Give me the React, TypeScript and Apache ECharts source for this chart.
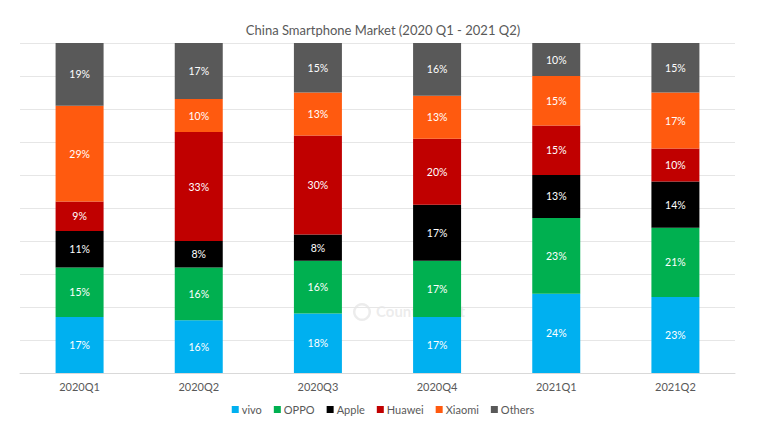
import React, { useEffect, useRef } from "react";
import * as echarts from "echarts";

const categories = ["2020Q1", "2020Q2", "2020Q3", "2020Q4", "2021Q1", "2021Q2"];
const vivo = [17, 16, 18, 17, 24, 23];
const oppo = [15, 16, 16, 17, 23, 21];
const apple = [11, 8, 8, 17, 13, 14];
const huawei = [9, 33, 30, 20, 15, 10];
const xiaomi = [29, 10, 13, 13, 15, 17];
const others = [19, 17, 15, 16, 10, 15];

const seriesDefs = [
  { name: "vivo", data: vivo, color: "#00B0F0" },
  { name: "OPPO", data: oppo, color: "#00B050" },
  { name: "Apple", data: apple, color: "#000000" },
  { name: "Huawei", data: huawei, color: "#C00000" },
  { name: "Xiaomi", data: xiaomi, color: "#FF5A0F" },
  { name: "Others", data: others, color: "#595959" },
];

const FONT = "Lato, 'Open Sans', sans-serif";

export default function App() {
  const ref = useRef<HTMLDivElement>(null);
  useEffect(() => {
    document.body.style.margin = "0";
    const chart = echarts.init(ref.current!, undefined, { renderer: "svg" });
    chart.setOption({
      animation: false,
      backgroundColor: "#ffffff",
      textStyle: { fontFamily: FONT },
      title: {
        text: "China Smartphone Market (2020 Q1 - 2021 Q2)",
        left: "center",
        top: 18,
        textStyle: { fontSize: 13, fontWeight: "normal", color: "#595959", fontFamily: FONT },
      },
      legend: {
        bottom: 11,
        left: "center",
        icon: "rect",
        itemWidth: 7,
        itemHeight: 7,
        itemGap: 12,
        textStyle: { fontSize: 11, color: "#595959", fontFamily: FONT, padding: [0, 0, 0, -2] },
        data: seriesDefs.map((s) => s.name),
      },
      grid: { left: 20, right: 31, top: 43, bottom: 58 },
      xAxis: {
        type: "category",
        data: categories,
        axisLine: { lineStyle: { color: "#d9d9d9" } },
        axisTick: { show: false },
        axisLabel: { color: "#595959", fontSize: 11, margin: 8, fontFamily: FONT },
      },
      yAxis: {
        type: "value",
        min: 0,
        max: 100,
        interval: 10,
        axisLabel: { show: false },
        axisLine: { show: false },
        axisTick: { show: false },
        splitLine: { lineStyle: { color: "#e6e6e6" } },
      },
      graphic: [
        {
          type: "group",
          z: -1,
          zlevel: 0,
          silent: true,
          children: [
            {
              type: "ring",
              shape: { cx: 362, cy: 312, r: 9, r0: 6.5 },
              style: { fill: "rgba(200,200,200,0.35)" },
              z: -1,
            },
            {
              type: "text",
              x: 376,
              y: 303,
              style: {
                text: "Counterpoint",
                fontSize: 15,
                fontWeight: "bold",
                fill: "rgba(200,200,200,0.35)",
                fontFamily: FONT,
              },
              z: -1,
            },
          ],
        },
      ],
      series: seriesDefs.map((s) => ({
        name: s.name,
        type: "bar",
        stack: "total",
        barWidth: 48,
        data: s.data,
        itemStyle: { color: s.color },
        z: 3,
        label: {
          show: true,
          position: "inside",
          formatter: "{c}%",
          color: "#ffffff",
          fontSize: 10.5,
          fontFamily: FONT,
        },
      })),
    });
    return () => chart.dispose();
  }, []);
  return (
    <div
      ref={ref}
      style={{ position: "absolute", left: 0, top: 0, width: 766, height: 431 }}
    />
  );
}
